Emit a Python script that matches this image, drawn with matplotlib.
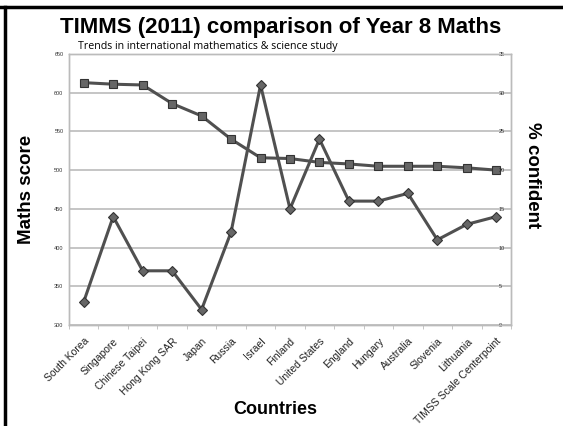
import matplotlib
matplotlib.use('Agg')
from matplotlib import pyplot as plt
from matplotlib.lines import Line2D
import numpy as np

countries = ['South Korea', 'Singapore', 'Chinese Taipei', 'Hong Kong SAR', 'Japan',
             'Russia', 'Israel', 'Finland', 'United States', 'England', 'Hungary',
             'Australia', 'Slovenia', 'Lithuania', 'TIMSS Scale Centerpoint']
maths_score = [613, 611, 610, 586, 570, 540, 516, 515, 510, 508, 505, 505, 505, 503, 500]
pct_confident = [3, 14, 7, 7, 2, 12, 31, 15, 24, 16, 16, 17, 11, 13, 14]

left_ticks = [300, 350, 400, 450, 500, 550, 600, 650]
right_ticks = [0, 5, 10, 15, 20, 25, 30, 35]

plt.rcParams['font.family'] = ['Liberation Sans', 'DejaVu Sans']

fig = plt.figure(figsize=(5.63, 4.26), dpi=100)
ax = fig.add_axes([69 / 563, 1 - 325 / 426, 442 / 563, 271 / 426])
ax2 = ax.twinx()

x = np.arange(len(countries))
line_col = '#505050'

ax.plot(x, maths_score, color=line_col, lw=2.2, marker='s', markersize=6,
        markerfacecolor='#666666', markeredgecolor='#333333', markeredgewidth=0.8, zorder=3)
ax2.plot(x, pct_confident, color=line_col, lw=2.2, marker='D', markersize=5,
         markerfacecolor='#666666', markeredgecolor='#333333', markeredgewidth=0.8, zorder=3)

ax.set_xlim(-0.5, len(countries) - 0.5)
ax.set_ylim(300, 650)
ax2.set_ylim(0, 35)
ax.set_yticks(left_ticks)
ax2.set_yticks(right_ticks)
ax.yaxis.grid(True, color='#bbbbbb', lw=1.2)
ax.set_axisbelow(True)

for a in (ax, ax2):
    for s in a.spines.values():
        s.set_color('#bbbbbb')
        s.set_linewidth(1.0)
ax.tick_params(axis='y', length=0, labelsize=4, labelcolor='#333333', pad=4)
ax2.tick_params(axis='y', length=0, labelsize=4, labelcolor='#333333', pad=-9)

ax.set_xticks(x)
ax.set_xticklabels(countries, rotation=45, ha='right', rotation_mode='anchor',
                   fontsize=7.5, color='#222222')
ax.set_xticks(np.arange(-0.5, len(countries), 1), minor=True)
ax.tick_params(axis='x', which='major', length=0, pad=8)
ax.tick_params(axis='x', which='minor', length=3, color='#bbbbbb')

fig.text(281 / 563, 1 - 27 / 426, 'TIMMS (2011) comparison of Year 8 Maths', ha='center', va='center',
         fontsize=16, fontweight='bold')
fig.text(78 / 563, 1 - 46 / 426, 'Trends in international mathematics & science study',
         ha='left', va='center', fontsize=7.7, family=['Open Sans', 'DejaVu Sans'])
fig.text(27 / 563, 1 - 189 / 426, 'Maths score', rotation=90, ha='center', va='center',
         fontsize=13.5, fontweight='bold')
fig.text(533 / 563, 1 - 175 / 426, '% confident', rotation=-90, ha='center', va='center',
         fontsize=13.5, fontweight='bold')
fig.text(275 / 563, 1 - 410 / 426, 'Countries', ha='center', va='center',
         fontsize=13, fontweight='bold')

# black frame lines at top and left of the screenshot
fig.add_artist(Line2D([0, 1], [1 - 7 / 426, 1 - 7 / 426], color='black', lw=2.5))
fig.add_artist(Line2D([5 / 563, 5 / 563], [0, 1 - 7 / 426], color='black', lw=2.5))

fig.savefig('out.png', dpi=100)
